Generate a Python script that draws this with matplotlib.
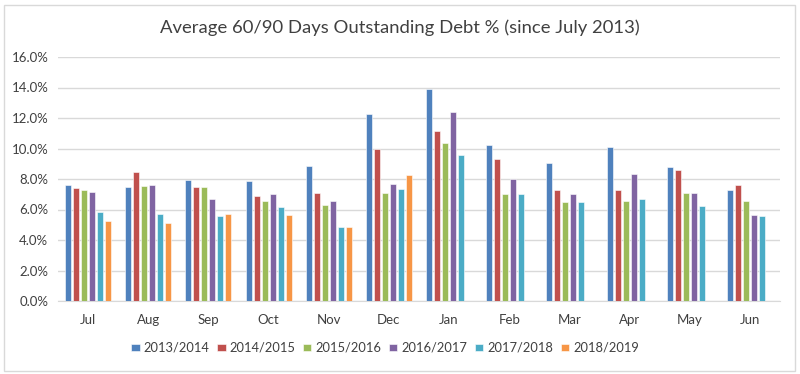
import numpy as np
import matplotlib
matplotlib.use("Agg")
import matplotlib.pyplot as plt
from matplotlib.patches import Rectangle
from matplotlib.ticker import FuncFormatter

months = ["Jul", "Aug", "Sep", "Oct", "Nov", "Dec",
          "Jan", "Feb", "Mar", "Apr", "May", "Jun"]
seasons = ["2013/2014", "2014/2015", "2015/2016",
           "2016/2017", "2017/2018", "2018/2019"]

# average outstanding debt %, one list per season (None = no data yet)
s2013 = [7.60, 7.47, 7.93, 7.88, 8.86, 12.25, 13.91, 10.24, 9.02, 10.13, 8.80, 7.29]
s2014 = [7.42, 8.43, 7.47, 6.86, 7.10, 9.96, 11.14, 9.34, 7.29, 7.29, 8.62, 7.58]
s2015 = [7.31, 7.53, 7.47, 6.53, 6.29, 7.07, 10.33, 7.03, 6.48, 6.59, 7.10, 6.57]
s2016 = [7.14, 7.60, 6.66, 6.99, 6.53, 7.69, 12.42, 7.97, 7.03, 8.34, 7.10, 5.63]
s2017 = [5.85, 5.70, 5.55, 6.16, 4.83, 7.36, 9.59, 6.99, 6.48, 6.70, 6.24, 5.55]
s2018 = [5.26, 5.13, 5.70, 5.66, 4.87, 8.23, None, None, None, None, None, None]

series = [s2013, s2014, s2015, s2016, s2017, s2018]
colors = ["#4F81BD", "#C0504D", "#9BBB59", "#8064A2", "#4BACC6", "#F79646"]

plt.rcParams["font.family"] = ["Lato", "DejaVu Sans"]

fig = plt.figure(figsize=(8, 3.74), dpi=100)
ax = fig.add_axes([58 / 800, 1 - 301 / 374, 722 / 800, 244 / 374])

x = np.arange(len(months))
slot = 0.133
bw = 0.10
for i, (vals, col, name) in enumerate(zip(series, colors, seasons)):
    xs = [xi + (i - 2.5) * slot for xi, v in zip(x, vals) if v is not None]
    ys = [v for v in vals if v is not None]
    ax.bar(xs, ys, width=bw, color=col, edgecolor="white", linewidth=0.4,
           label=name, zorder=3)

ax.set_xlim(-0.5, len(months) - 0.5)
ax.set_ylim(0, 16)
ax.set_yticks(np.arange(0, 16.1, 2))
ax.yaxis.set_major_formatter(FuncFormatter(lambda v, p: f"{v:.1f}%"))
ax.set_xticks(x)
ax.set_xticklabels(months)
ax.grid(axis="y", color="#D9D9D9", linewidth=1, zorder=0)
for s in ["top", "right", "left"]:
    ax.spines[s].set_visible(False)
ax.spines["bottom"].set_color("#D9D9D9")
ax.tick_params(axis="both", length=0, labelsize=9.5, colors="#404040")
ax.tick_params(axis="x", pad=9)
ax.tick_params(axis="y", pad=7)

fig.text(400 / 800, 1 - 28 / 374,
         "Average 60/90 Days Outstanding Debt % (since July 2013)",
         ha="center", va="center", fontsize=13.3, color="#404040")

leg = fig.legend(loc="center", bbox_to_anchor=(385 / 800, 1 - 348 / 374),
                 ncol=6, frameon=False, fontsize=9.3, handlelength=0.65,
                 handleheight=0.5, handletextpad=0.3, columnspacing=0.6)
for t in leg.get_texts():
    t.set_color("#404040")

fig.patches.append(Rectangle((4 / 800, 3 / 374), 791 / 800, 366 / 374,
                             transform=fig.transFigure, fill=False,
                             edgecolor="#D9D9D9", linewidth=1))

fig.savefig("out.png", dpi=100)
